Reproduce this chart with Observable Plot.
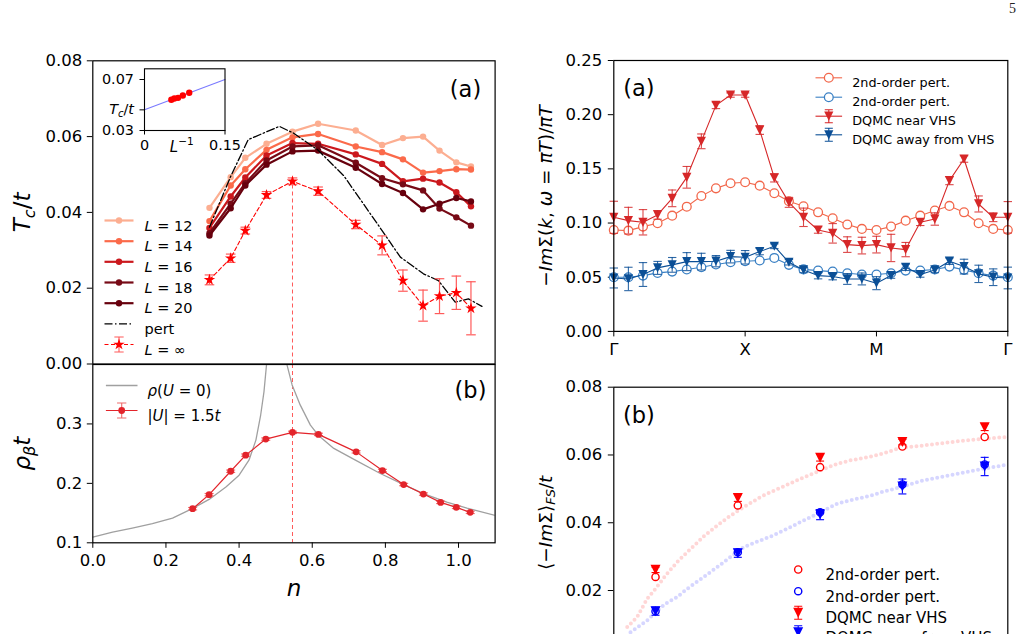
<!DOCTYPE html>
<html>
<head>
<meta charset="utf-8">
<script src="https://cdn.jsdelivr.net/npm/d3@7"></script>
<script src="https://cdn.jsdelivr.net/npm/@observablehq/plot@0.6"></script>
<style>
  html, body { margin: 0; padding: 0; background: #fff; }
  #fig { position: relative; width: 1028px; height: 634px; overflow: hidden; background: #fff; }
  #fig > svg { position: absolute; left: 0; top: 0; }
  #page { position: absolute; left: 1009px; top: 1px; font: 14px "Liberation Serif", "DejaVu Serif", serif; color: #222; }
</style>
</head>
<body>
<div id="fig"><div id="page">5</div></div>
<script>
// ---------- Tc/t versus filling n (upper left) ----------
const nTc    = [0.319, 0.377, 0.417, 0.475, 0.546, 0.616, 0.719, 0.791, 0.848, 0.903, 0.948, 0.994, 1.034];
const tcL12  = [0.0412, 0.0493, 0.0544, 0.0581, 0.0613, 0.0634, 0.0616, 0.0578, 0.0596, 0.0600, 0.0563, 0.0532, 0.0521];
const tcL14  = [0.0377, 0.0471, 0.0514, 0.0565, 0.0598, 0.0607, 0.0574, 0.0559, 0.0540, 0.0505, 0.0509, 0.0514, 0.0513];
const tcL16  = [0.0359, 0.0442, 0.0492, 0.0550, 0.0583, 0.0581, 0.0553, 0.0528, 0.0482, 0.0489, 0.0479, 0.0453, 0.0416];
const tcL18  = [0.0345, 0.0423, 0.0477, 0.0537, 0.0574, 0.0577, 0.0531, 0.0490, 0.0474, 0.0458, 0.0410, 0.0387, 0.0365];
const tcL20  = [0.0339, 0.0411, 0.0471, 0.0526, 0.0561, 0.0563, 0.0518, 0.0475, 0.0451, 0.0408, 0.0423, 0.0438, 0.0429];
const tcInf    = [0.0222, 0.0279, 0.0352, 0.0446, 0.0482, 0.0456, 0.0368, 0.0313, 0.0220, 0.0154, 0.0179, 0.0188, 0.0147];
const tcInfErr = [0.0013, 0.0011, 0.0009, 0.0009, 0.0009, 0.0011, 0.0011, 0.0025, 0.0028, 0.0041, 0.0046, 0.0044, 0.0070];
const nPert  = [0.319, 0.377, 0.425, 0.510, 0.549, 0.615, 0.686, 0.791, 0.841, 0.904, 0.945, 0.991, 1.027, 1.064];
const tcPert = [0.0361, 0.0495, 0.0592, 0.0627, 0.0609, 0.0565, 0.0497, 0.0352, 0.0282, 0.0238, 0.0220, 0.0163, 0.0172, 0.0152];
const tcTicks = [0, 0.02, 0.04, 0.06, 0.08];
const peakIndex = 4;   // filling with the largest extrapolated Tc

// inset: finite-size extrapolation at the peak filling
const invL    = [1 / 20, 1 / 18, 1 / 16, 1 / 14, 1 / 12];
const tcInset = [0.0541, 0.0551, 0.0556, 0.0574, 0.0596];
const fitInvL = [0, 0.15];
const fitTc   = [0.0462, 0.0700];

// ---------- superfluid stiffness / DOS (lower left) ----------
const nRho   = [0.273, 0.318, 0.377, 0.418, 0.473, 0.546, 0.617, 0.720, 0.792, 0.850, 0.904, 0.951, 0.994, 1.032];
const rhoU15 = [0.1574, 0.181, 0.2204, 0.2475, 0.2745, 0.2858, 0.2824, 0.253, 0.2216, 0.198, 0.182, 0.168, 0.1596, 0.1512];
const rhoErr = [0.002, 0.002, 0.002, 0.002, 0.002, 0.002, 0.002, 0.002, 0.002, 0.002, 0.002, 0.002, 0.002, 0.002];
const nDos   = [0, 0.054, 0.108, 0.163, 0.218, 0.272, 0.318, 0.364, 0.400, 0.427, 0.446, 0.459, 0.468, 0.475, 0.500,
                0.531, 0.545, 0.567, 0.595, 0.618, 0.659, 0.713, 0.786, 0.850, 0.904, 0.968, 1.023, 1.100];
const rhoDos = [0.1095, 0.1179, 0.1247, 0.1321, 0.1416, 0.1574, 0.173, 0.194, 0.2137, 0.239, 0.2728, 0.315, 0.354, 0.3995, 0.600,
                0.3995, 0.3657, 0.332, 0.298, 0.280, 0.2588, 0.2407, 0.2166, 0.198, 0.1828, 0.1686, 0.1584, 0.146];

// ---------- -Im Sigma along the k path (upper right) ----------
const kPath = [0, 1, 2, 3, 4, 5, 6, 7, 8, 9, 10, 11, 12, 13, 14, 15, 16, 17, 18, 19, 20, 21, 22, 23, 24, 25, 26, 27];
const kTickPos  = [0, 9, 18, 27];
const kTickText = ["Γ", "X", "M", "Γ"];
const imPertNear = [0.0936, 0.0930, 0.0967, 0.0998, 0.1068, 0.1151, 0.1250, 0.1320, 0.1367, 0.1376, 0.1345, 0.1275, 0.1201, 0.1155,
                    0.1099, 0.1044, 0.0986, 0.0946, 0.0936, 0.0967, 0.1022, 0.1068, 0.1115, 0.1158, 0.1099, 0.0998, 0.0946, 0.0936];
const imPertAway = [0.0500, 0.0500, 0.0515, 0.0540, 0.0552, 0.0571, 0.0592, 0.0617, 0.0638, 0.0648, 0.0654, 0.0678, 0.0614, 0.0572,
                    0.0561, 0.0552, 0.0537, 0.0525, 0.0525, 0.0537, 0.0561, 0.0561, 0.0571, 0.0598, 0.0568, 0.0537, 0.0515, 0.0500];
const imDqmcNear = [0.1053, 0.1022, 0.1007, 0.1075, 0.1228, 0.1422, 0.1754, 0.2086, 0.2181, 0.2181, 0.1858, 0.1416, 0.1191, 0.1053,
                    0.0936, 0.0905, 0.0801, 0.0792, 0.0801, 0.0770, 0.0755, 0.1007, 0.1037, 0.1391, 0.1591, 0.1176, 0.1053, 0.1053];
const imDqmcNearErr = [0.0148, 0.0123, 0.0117, 0.0040, 0.0077, 0.0100, 0.0068, 0.0030, 0.0020, 0.0020, 0.0040, 0.0037, 0.0046, 0.0085,
                       0.0030, 0.0090, 0.0072, 0.0077, 0.0077, 0.0126, 0.0066, 0.0030, 0.0057, 0.0037, 0.0030, 0.0074, 0.0040, 0.0145];
const imDqmcAway = [0.0493, 0.0484, 0.0525, 0.0586, 0.0614, 0.0644, 0.0644, 0.0648, 0.0690, 0.0684, 0.0737, 0.0786, 0.0638, 0.0567,
                    0.0515, 0.0506, 0.0484, 0.0484, 0.0445, 0.0515, 0.0592, 0.0525, 0.0567, 0.0648, 0.0598, 0.0531, 0.0500, 0.0493];
const imDqmcAwayErr = [0.0092, 0.0108, 0.0110, 0.0060, 0.0068, 0.0083, 0.0077, 0.0052, 0.0058, 0.0062, 0.0030, 0.0022, 0.0025, 0.0025,
                       0.0030, 0.0030, 0.0050, 0.0055, 0.0060, 0.0025, 0.0030, 0.0025, 0.0025, 0.0030, 0.0068, 0.0080, 0.0077, 0.0100];

// ---------- Fermi-surface average of -Im Sigma (lower right) ----------
const fsStep = [1, 2, 3, 4, 5];
const fsPertNear    = [0.0240, 0.0451, 0.0564, 0.0625, 0.0653];
const fsPertAway    = [0.0139, 0.0313, 0.0431, 0.0513, 0.0572];
const fsDqmcNear    = [0.0261, 0.0473, 0.0592, 0.0638, 0.0682];
const fsDqmcNearErr = [0.0008, 0.0010, 0.0010, 0.0008, 0.0010];
const fsDqmcAway    = [0.0139, 0.0310, 0.0424, 0.0507, 0.0566];
const fsDqmcAwayErr = [0.0012, 0.0012, 0.0015, 0.0022, 0.0027];
const fsTicks = [0.02, 0.04, 0.06, 0.08];
const fadeNearX = [0.656, 0.777, 0.899, 1.0, 1.121, 1.263, 1.385, 1.587, 1.749, 1.911, 2.073, 2.275, 2.397, 2.599,
                   2.761, 3.004, 3.206, 3.368, 3.611, 3.773, 3.976, 4.219, 4.421, 4.664, 4.907, 5.150, 5.279];
const fadeNearY = [0.0092, 0.0122, 0.0176, 0.0205, 0.0244, 0.0284, 0.0313, 0.0360, 0.0392, 0.0421, 0.0446, 0.0476, 0.0490, 0.0512,
                   0.0530, 0.0554, 0.0574, 0.0584, 0.0595, 0.0605, 0.0621, 0.0627, 0.0633, 0.0640, 0.0646, 0.0651, 0.0653];
const fadeAwayX = [0.696, 0.899, 1.0, 1.121, 1.263, 1.385, 1.587, 1.749, 1.911, 2.073, 2.275, 2.397, 2.599,
                   2.761, 3.004, 3.206, 3.368, 3.611, 3.773, 3.976, 4.219, 4.421, 4.664, 4.907, 5.150, 5.279];
const fadeAwayY = [0.0077, 0.0112, 0.0136, 0.0161, 0.0181, 0.0205, 0.0240, 0.0269, 0.0299, 0.0328, 0.0348, 0.0359, 0.0382,
                   0.0402, 0.0431, 0.0456, 0.0466, 0.0480, 0.0492, 0.0505, 0.0523, 0.0533, 0.0544, 0.0556, 0.0566, 0.0572];

// ---------- drawing helpers ----------
const W = 1028, H = 700, FONT = "DejaVu Sans";
const RED = "#ff0000";

const sym = {
  hline:   {draw(ctx, size) { const r = Math.sqrt(size / Math.PI); ctx.moveTo(-r, 0); ctx.lineTo(r, 0); }},
  triDown: {draw(ctx, size) { const r = Math.sqrt(size / Math.PI); ctx.moveTo(0, r); ctx.lineTo(-r, -r); ctx.lineTo(r, -r); ctx.closePath(); }},
  errbar:  {draw(ctx, size) {
    const r = Math.sqrt(size / Math.PI), w = 0.62 * r;
    ctx.moveTo(0, -r); ctx.lineTo(0, r);
    ctx.moveTo(-w, -r); ctx.lineTo(w, -r);
    ctx.moveTo(-w, r); ctx.lineTo(w, r);
  }}
};

// math-style labels: italics, sub- and superscripts as tspans
const mathLabels = new Map();
function math(key, fs, parts) {
  let out = "", shift = 0;
  for (const [t, st = ""] of parts) {
    const want = st.endsWith("sub") ? 0.2 * fs : st.endsWith("sup") ? -0.42 * fs : 0;
    const dy = want - shift; shift = want;
    out += `<tspan${dy ? ` dy="${dy.toFixed(2)}"` : ""}${want ? ` font-size="${(0.7 * fs).toFixed(2)}"` : ""}${st.startsWith("i") ? ' font-style="italic"' : ""}>${t}</tspan>`;
  }
  mathLabels.set(key, out);
  return key;
}
function typeset(svg) {
  d3.select(svg).selectAll("text").each(function () {
    const m = mathLabels.get(this.textContent);
    if (m) this.innerHTML = m;
  });
  return svg;
}

function frameBox(f) {
  return {
    width: W, height: H,
    marginLeft: f.l, marginTop: f.t, marginRight: W - f.r, marginBottom: H - f.b,
    style: {background: "transparent", fontFamily: FONT, fontSize: "16px", overflow: "visible"}
  };
}

function errorBars(rows, {color, width = 1.1, cap = 4, opacity = 1}) {
  const st = {stroke: color, strokeWidth: width, strokeOpacity: opacity};
  return [
    Plot.ruleX(rows, {x: "x", y1: d => d.y - d.e, y2: d => d.y + d.e, ...st}),
    Plot.dot(rows, {x: "x", y: d => d.y + d.e, symbol: sym.hline, r: cap, fill: "none", ...st}),
    Plot.dot(rows, {x: "x", y: d => d.y - d.e, symbol: sym.hline, r: cap, fill: "none", ...st})
  ];
}

function keyRow(k, {dx, dy, half, textDx, fs}) {
  const at = {frameAnchor: "top-left", dx, dy};
  const m = [];
  if (k.err) m.push(Plot.dot([0], {...at, symbol: sym.errbar, r: k.err.r, stroke: k.err.color, strokeWidth: 1.1, fill: "none"}));
  if (k.line) m.push(Plot.dot([0], {...at, symbol: sym.hline, r: half, stroke: k.line, strokeWidth: k.width ?? 1.2, strokeDasharray: k.dash, fill: "none"}));
  if (k.marker) m.push(Plot.dot([0], {...at, fill: "none", ...k.marker}));
  m.push(Plot.text([k.text], {frameAnchor: "top-left", dx: textDx, dy, text: d => d, textAnchor: "start", fontSize: fs}));
  return m;
}

const axisStyle = {tickSize: 5.5, tickPadding: 5, fontSize: 16.5, label: null};
const fig = document.getElementById("fig");
const add = svg => fig.appendChild(typeset(svg));

// ---------- panel: Tc/t vs n ----------
const fTL = {l: 92.3, t: 60.3, r: 494.6, b: 363.5};
const tlSeries = [
  {L: "12", tc: tcL12, color: "#fcae91"},
  {L: "14", tc: tcL14, color: "#fb6a4a"},
  {L: "16", tc: tcL16, color: "#cb181d"},
  {L: "18", tc: tcL18, color: "#770a16"},
  {L: "20", tc: tcL20, color: "#67000d"}
];
const infRows  = nTc.map((x, i) => ({x, y: tcInf[i], e: tcInfErr[i]}));
const pertRows = nPert.map((x, i) => ({x, y: tcPert[i]}));
const peak = [{x: nTc[peakIndex], y: tcInf[peakIndex]}];

const tlKeys = [
  ...tlSeries.map(s => ({text: math("L = " + s.L, 14.5, [["L", "i"], [" = " + s.L]]), line: s.color, width: 2.2, marker: {r: 3.2, fill: s.color}})),
  {text: "pert", line: "black", width: 1.3, dash: "8,2.5,1.5,2.5"},
  {text: math("L = ∞", 14.5, [["L", "i"], [" = ∞"]]), line: RED, width: 1.1, dash: "4,2.5",
   err: {r: 7.5, color: "#ff5a5a"}, marker: {symbol: "star", r: 3.6, fill: RED}}
];
const tlKeyDy = [159.7, 180.4, 201, 221.7, 242.4, 263, 283.7];

add(Plot.plot({
  ...frameBox(fTL),
  x: {domain: [0, 1.1], axis: null},
  y: {domain: [0, 0.08]},
  marks: [
    Plot.axisY({ticks: tcTicks, tickFormat: d3.format(".2f"), ...axisStyle}),
    Plot.ruleX(peak, {x: "x", y1: 0, y2: "y", stroke: "#ff5a5a", strokeWidth: 1, strokeDasharray: "4,3"}),
    ...tlSeries.flatMap(s => {
      const rows = nTc.map((x, i) => ({x, y: s.tc[i]}));
      return [
        Plot.line(rows, {x: "x", y: "y", stroke: s.color, strokeWidth: 2.2}),
        Plot.dot(rows, {x: "x", y: "y", r: 3.2, fill: s.color})
      ];
    }),
    Plot.line(pertRows, {x: "x", y: "y", stroke: "black", strokeWidth: 1.3, strokeDasharray: "8,2.5,1.5,2.5"}),
    ...errorBars(infRows, {color: "#ff5a5a", width: 1.2, cap: 4.8}),
    Plot.line(infRows, {x: "x", y: "y", stroke: RED, strokeWidth: 1.1, strokeDasharray: "4,2.5"}),
    Plot.dot(infRows, {x: "x", y: "y", symbol: "star", r: 3.6, fill: RED}),
    ...tlKeys.flatMap((k, i) => keyRow(k, {dx: 26.2, dy: tlKeyDy[i], half: 14.5, textDx: 51.7, fs: 14.5})),
    Plot.text(["(a)"], {frameAnchor: "top-right", dx: -29.6, dy: 20.4, text: d => d, textAnchor: "middle", fontSize: 22.5}),
    Plot.text([math("Tc/t", 23, [["T", "i"], ["c", "isub"], ["/"], ["t", "i"]])],
              {frameAnchor: "left", dx: -70, rotate: -90, text: d => d, textAnchor: "middle", fontSize: 23}),
    Plot.frame({stroke: "black", strokeWidth: 1.2})
  ]
}));

// ---------- inset: Tc vs 1/L ----------
const fIn = {l: 144, t: 68.3, r: 224.5, b: 130};
const insetRows = invL.map((x, i) => ({x, y: tcInset[i]}));
const fitRows = fitInvL.map((x, i) => ({x, y: fitTc[i]}));
const insetTcKey = math("Tc/t inset", 14.4, [["T", "i"], ["c", "isub"], ["/"], ["t", "i"]]);
add(Plot.plot({
  ...frameBox(fIn),
  x: {domain: [0, 0.15]},
  y: {domain: [0.03, 0.0784]},
  marks: [
    Plot.frame({fill: "white"}),
    Plot.axisY({ticks: [0.03, fitTc[0], 0.07], tickFormat: d => d === fitTc[0] ? insetTcKey : d3.format(".2f")(d),
                tickSize: 4.5, tickPadding: 6, fontSize: 14.4, label: null}),
    Plot.axisX({ticks: [0, 0.15], tickFormat: d => d === 0 ? "0" : "0.15", tickSize: 4.5, tickPadding: 5, fontSize: 14.4, label: null}),
    Plot.line(fitRows, {x: "x", y: "y", stroke: "#7a7aff", strokeWidth: 1.1}),
    Plot.dot(insetRows, {x: "x", y: "y", r: 3.2, fill: RED}),
    Plot.text([math("L^-1", 15, [["L", "i"], ["−1", "sup"]])],
              {frameAnchor: "bottom", dx: -3, dy: 21, text: d => d, textAnchor: "middle", fontSize: 15}),
    Plot.frame({stroke: "black", strokeWidth: 1.1})
  ]
}));

// ---------- panel: rho_beta t vs n ----------
const fBL = {l: 92.3, t: 364, r: 494.6, b: 542.3};
const dosRows = nDos.map((x, i) => ({x, y: rhoDos[i]}));
const rhoRows = nRho.map((x, i) => ({x, y: rhoU15[i], e: rhoErr[i]}));
const RHO_RED = "#e3242b";
const blKeys = [
  {text: math("rho(U=0)", 15, [["ρ", "i"], ["("], ["U", "i"], [" = 0)"]]), line: "#a0a0a0", width: 1.3},
  {text: math("|U|=1.5t", 15, [["|"], ["U", "i"], ["| = 1.5"], ["t", "i"]]), line: RHO_RED, width: 1.2,
   err: {r: 7.5, color: "#ee6a6a"}, marker: {r: 3.4, fill: RHO_RED}}
];
add(Plot.plot({
  ...frameBox(fBL),
  x: {domain: [0, 1.1]},
  y: {domain: [0.1, 0.4]},
  marks: [
    Plot.axisY({ticks: [0.1, 0.2, 0.3], tickFormat: d3.format(".1f"), ...axisStyle}),
    Plot.axisX({ticks: [0, 0.2, 0.4, 0.6, 0.8, 1.0], tickFormat: d3.format(".1f"), ...axisStyle, tickPadding: 6}),
    Plot.ruleX(peak, {x: "x", stroke: "#ff5a5a", strokeWidth: 1, strokeDasharray: "4,3"}),
    Plot.line(dosRows, {x: "x", y: "y", stroke: "#a0a0a0", strokeWidth: 1.3, clip: true}),
    ...errorBars(rhoRows, {color: "#ee6a6a", width: 1.1, cap: 4.5}),
    Plot.line(rhoRows, {x: "x", y: "y", stroke: RHO_RED, strokeWidth: 1.2}),
    Plot.dot(rhoRows, {x: "x", y: "y", r: 3.4, fill: RHO_RED}),
    ...blKeys.flatMap((k, i) => keyRow(k, {dx: 28.9, dy: [21, 46][i], half: 15.8, textDx: 54.7, fs: 15})),
    Plot.text(["(b)"], {frameAnchor: "top-right", dx: -24.6, dy: 17.7, text: d => d, textAnchor: "middle", fontSize: 22.5}),
    Plot.text([math("rho_beta t", 23, [["ρ", "i"], ["β", "isub"], ["t", "i"]])],
              {frameAnchor: "left", dx: -70, rotate: -90, text: d => d, textAnchor: "middle", fontSize: 23}),
    Plot.text(["n"], {frameAnchor: "bottom", dy: 53.5, text: d => d, fontStyle: "italic", fontSize: 23}),
    Plot.frame({stroke: "black", strokeWidth: 1.2})
  ]
}));

// ---------- panel: -Im Sigma(k) along Gamma-X-M-Gamma ----------
const fTR = {l: 613.3, t: 60, r: 1007.3, b: 330.9};
const C_PERT_NEAR = "#f2674b", C_PERT_AWAY = "#3a80c4", C_DQMC_NEAR = "#d62728", C_DQMC_AWAY = "#0b4f96";
const pNear = kPath.map((x, i) => ({x, y: imPertNear[i]}));
const pAway = kPath.map((x, i) => ({x, y: imPertAway[i]}));
const qNear = kPath.map((x, i) => ({x, y: imDqmcNear[i], e: imDqmcNearErr[i]}));
const qAway = kPath.map((x, i) => ({x, y: imDqmcAway[i], e: imDqmcAwayErr[i]}));
const trKeys = [
  {text: "2nd-order pert.", line: C_PERT_NEAR, width: 1.1, marker: {r: 4.4, stroke: C_PERT_NEAR, strokeWidth: 1.3, fill: "white"}},
  {text: "2nd-order pert.", line: C_PERT_AWAY, width: 1.1, marker: {r: 4.4, stroke: C_PERT_AWAY, strokeWidth: 1.3, fill: "white"}},
  {text: "DQMC near VHS", line: C_DQMC_NEAR, width: 1.1, err: {r: 6.5, color: C_DQMC_NEAR}, marker: {symbol: sym.triDown, r: 4.6, fill: C_DQMC_NEAR}},
  {text: "DQMC away from VHS", line: C_DQMC_AWAY, width: 1.1, err: {r: 6.5, color: C_DQMC_AWAY}, marker: {symbol: sym.triDown, r: 4.6, fill: C_DQMC_AWAY}}
];
add(Plot.plot({
  ...frameBox(fTR),
  x: {domain: [0, 27]},
  y: {domain: [0, 0.25]},
  marks: [
    Plot.axisY({ticks: [0, 0.05, 0.1, 0.15, 0.2, 0.25], tickFormat: d3.format(".2f"), ...axisStyle, tickPadding: 6}),
    Plot.axisX({ticks: kTickPos, tickFormat: d => kTickText[kTickPos.indexOf(d)], ...axisStyle, tickPadding: 6}),
    Plot.line(pNear, {x: "x", y: "y", stroke: C_PERT_NEAR, strokeWidth: 1.1}),
    Plot.dot(pNear, {x: "x", y: "y", r: 4.4, stroke: C_PERT_NEAR, strokeWidth: 1.3, fill: "white"}),
    Plot.line(pAway, {x: "x", y: "y", stroke: C_PERT_AWAY, strokeWidth: 1.1}),
    Plot.dot(pAway, {x: "x", y: "y", r: 4.4, stroke: C_PERT_AWAY, strokeWidth: 1.3, fill: "white"}),
    ...errorBars(qNear, {color: C_DQMC_NEAR, width: 1.1, cap: 4.2, opacity: 0.85}),
    Plot.line(qNear, {x: "x", y: "y", stroke: C_DQMC_NEAR, strokeWidth: 1.1}),
    Plot.dot(qNear, {x: "x", y: "y", symbol: sym.triDown, r: 4.6, fill: C_DQMC_NEAR}),
    ...errorBars(qAway, {color: C_DQMC_AWAY, width: 1.1, cap: 4.2, opacity: 0.85}),
    Plot.line(qAway, {x: "x", y: "y", stroke: C_DQMC_AWAY, strokeWidth: 1.1}),
    Plot.dot(qAway, {x: "x", y: "y", symbol: sym.triDown, r: 4.6, fill: C_DQMC_AWAY}),
    ...trKeys.flatMap((k, i) => keyRow(k, {dx: 215, dy: [17.3, 36.7, 55.7, 74.3][i], half: 13.3, textDx: 238.4, fs: 12.8})),
    Plot.text(["(a)"], {frameAnchor: "top-left", dx: 25, dy: 19.3, text: d => d, textAnchor: "middle", fontSize: 22.5}),
    Plot.text([math("-ImSigma(k,w=piT)/piT", 18.5, [["−"], ["Im", "i"], ["Σ("], ["k", "i"], [", "], ["ω", "i"], [" = "], ["πT", "i"], [")/"], ["πT", "i"]])],
              {frameAnchor: "left", dx: -68, rotate: -90, text: d => d, textAnchor: "middle", fontSize: 18.5}),
    Plot.frame({stroke: "black", strokeWidth: 1.2})
  ]
}));

// ---------- panel: <-Im Sigma>_FS / t ----------
const fBR = {l: 613.3, t: 386.7, r: 1007.3, b: 657.8};
const fsPN = fsStep.map((x, i) => ({x, y: fsPertNear[i]}));
const fsPA = fsStep.map((x, i) => ({x, y: fsPertAway[i]}));
const fsQN = fsStep.map((x, i) => ({x, y: fsDqmcNear[i], e: fsDqmcNearErr[i]}));
const fsQA = fsStep.map((x, i) => ({x, y: fsDqmcAway[i], e: fsDqmcAwayErr[i]}));
const fadeNear = fadeNearX.map((x, i) => ({x, y: fadeNearY[i]}));
const fadeAway = fadeAwayX.map((x, i) => ({x, y: fadeAwayY[i]}));
const BLUE = "#0000ff";
const brKeys = [
  {text: "2nd-order pert.", marker: {r: 3.6, stroke: RED, strokeWidth: 1.4, fill: "white"}},
  {text: "2nd-order pert.", marker: {r: 3.6, stroke: BLUE, strokeWidth: 1.4, fill: "white"}},
  {text: "DQMC near VHS", err: {r: 6.5, color: RED}, marker: {symbol: sym.triDown, r: 5, fill: RED}},
  {text: "DQMC away from VHS", err: {r: 6.5, color: BLUE}, marker: {symbol: sym.triDown, r: 5, fill: BLUE}}
];
add(Plot.plot({
  ...frameBox(fBR),
  x: {domain: [0.493, 5.281], axis: null},
  y: {domain: [0, 0.08]},
  marks: [
    Plot.axisY({ticks: fsTicks, tickFormat: d3.format(".2f"), ...axisStyle, tickPadding: 6}),
    Plot.line(fadeNear, {x: "x", y: "y", stroke: RED, strokeOpacity: 0.16, strokeWidth: 4, strokeDasharray: "0,5.2", strokeLinecap: "round", clip: true}),
    Plot.line(fadeAway, {x: "x", y: "y", stroke: BLUE, strokeOpacity: 0.16, strokeWidth: 4, strokeDasharray: "0,5.2", strokeLinecap: "round", clip: true}),
    Plot.dot(fsPN, {x: "x", y: "y", r: 3.6, stroke: RED, strokeWidth: 1.4, fill: "white"}),
    Plot.dot(fsPA, {x: "x", y: "y", r: 3.6, stroke: BLUE, strokeWidth: 1.4, fill: "white"}),
    ...errorBars(fsQN, {color: RED, width: 1.1, cap: 4}),
    Plot.dot(fsQN, {x: "x", y: "y", symbol: sym.triDown, r: 5, fill: RED}),
    ...errorBars(fsQA, {color: BLUE, width: 1.1, cap: 4}),
    Plot.dot(fsQA, {x: "x", y: "y", symbol: sym.triDown, r: 5, fill: BLUE}),
    ...brKeys.flatMap((k, i) => keyRow(k, {dx: 184.4, dy: [182.3, 204, 225.6, 245][i], half: 12, textDx: 211.7, fs: 15})),
    Plot.text(["(b)"], {frameAnchor: "top-left", dx: 25, dy: 20, text: d => d, textAnchor: "middle", fontSize: 22.5}),
    Plot.text([math("<-ImSigma>_FS/t", 18.5, [["⟨−"], ["Im", "i"], ["Σ⟩"], ["FS", "isub"], ["/"], ["t", "i"]])],
              {frameAnchor: "left", dx: -68, rotate: -90, text: d => d, textAnchor: "middle", fontSize: 18.5}),
    Plot.frame({stroke: "black", strokeWidth: 1.2})
  ]
}));
</script>
</body>
</html>
